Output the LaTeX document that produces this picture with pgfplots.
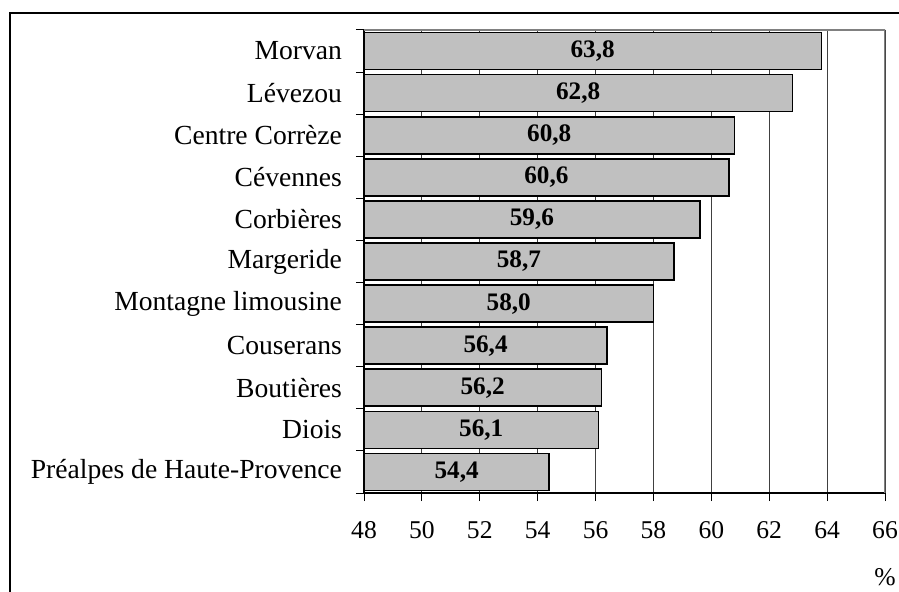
\documentclass[border=0pt]{standalone}
\usepackage{fontspec}
\setmainfont{Liberation Serif}
\usepackage{pgfplots}
\pgfplotsset{compat=1.18}
\definecolor{barfill}{RGB}{192,192,192}
\begin{document}
\begin{tikzpicture}
\useasboundingbox (0bp,0bp) rectangle (449.5bp,296bp);
\draw[line width=0.7bp] (5bp,0bp) -- (5bp,289.5bp) -- (449.5bp,289.5bp);
\begin{axis}[
  at={(182bp,49.5bp)}, anchor=south west,
  scale only axis, width=260.5bp, height=231.5bp,
  xbar, bar width=18.5bp,
  xmin=48, xmax=66, ymin=-0.5, ymax=10.5,
  xtick={48,50,...,66},
  ytick={-0.5,0.5,...,10.5}, yticklabels={},
  extra y ticks={0,1,...,10},
  extra y tick labels={Préalpes de Haute-Provence,Diois,Boutières,Couserans,Montagne limousine,Margeride,Corbières,Cévennes,Centre Corrèze,Lévezou,Morvan},
  extra y tick style={major tick length=0pt, yticklabel style={anchor=east, xshift=-7.5bp}},
  tick align=outside, major tick length=4bp,
  tick style={black, line width=0.5bp},
  axis lines*=left, axis line style={-, black, line width=0.6bp},
  xmajorgrids, grid style={black!75, line width=0.5bp},
  /pgf/number format/assume math mode=true,
  tick label style={font=\fontsize{12.8bp}{14bp}\selectfont},
  yticklabel style={font=\fontsize{13.8bp}{16bp}\selectfont},
  xticklabel style={anchor=center, yshift=-14.5bp},
  xlabel={\%}, xlabel style={at={(axis description cs:1,0)}, anchor=center, yshift=-42bp, font=\fontsize{12.8bp}{14bp}\selectfont},
  point meta=x,
  visualization depends on={x \as \rawx},
  nodes near coords={\pgfmathprintnumber[fixed,zerofill,precision=1,use comma]{\pgfplotspointmeta}},
  every node near coord/.append style={anchor=center, xshift={-(\rawx-48)*7.236bp}, font=\fontsize{12.6bp}{14bp}\selectfont\bfseries},
]
\addplot[fill=barfill, draw=black, line width=0.8bp] coordinates {
  (54.4,0) (56.1,1) (56.2,2) (56.4,3) (58.0,4) (58.7,5) (59.6,6) (60.6,7) (60.8,8) (62.8,9) (63.8,10)
};
\draw[gray, line width=0.6bp] (rel axis cs:0,1) -- (rel axis cs:1,1) -- (rel axis cs:1,0);
\end{axis}
\end{tikzpicture}
\end{document}
